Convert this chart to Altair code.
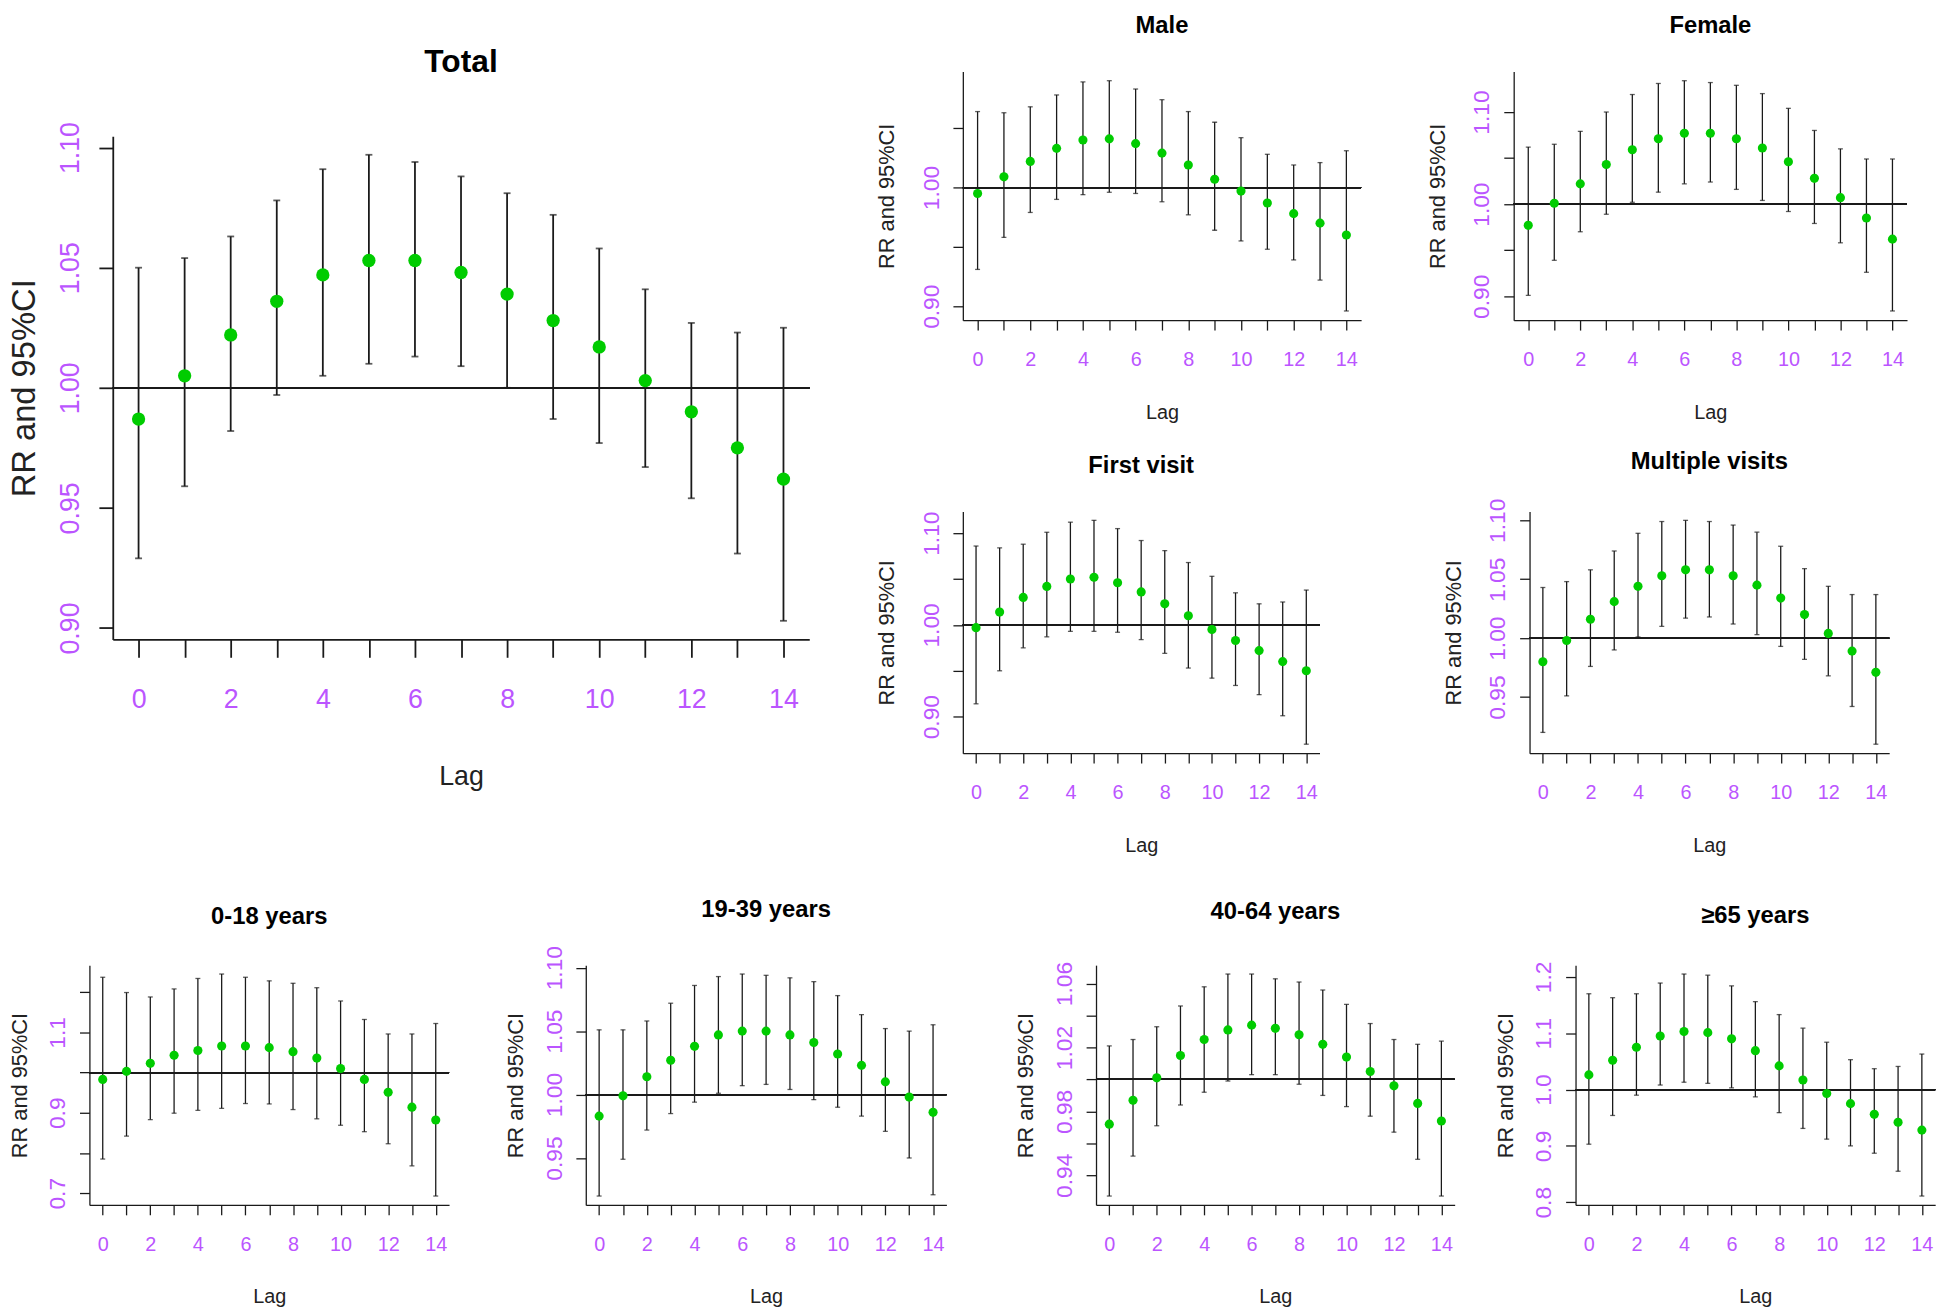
import altair as alt
import pandas as pd

LAGS = list(range(15))

# ---- Total ----
total_rr = [0.987, 1.005, 1.022, 1.036, 1.047, 1.053, 1.053, 1.048, 1.039, 1.028, 1.017, 1.003, 0.990, 0.975, 0.962]
total_lo = [0.929, 0.959, 0.982, 0.997, 1.005, 1.010, 1.013, 1.009, 1.000, 0.987, 0.977, 0.967, 0.954, 0.931, 0.903]
total_hi = [1.050, 1.054, 1.063, 1.078, 1.091, 1.097, 1.094, 1.088, 1.081, 1.072, 1.058, 1.041, 1.027, 1.023, 1.025]

# ---- Male ----
male_rr = [0.995, 1.009, 1.022, 1.033, 1.040, 1.041, 1.037, 1.029, 1.019, 1.007, 0.997, 0.987, 0.978, 0.970, 0.960]
male_lo = [0.931, 0.958, 0.979, 0.990, 0.994, 0.996, 0.995, 0.988, 0.977, 0.964, 0.955, 0.948, 0.939, 0.922, 0.896]
male_hi = [1.064, 1.063, 1.068, 1.078, 1.089, 1.090, 1.083, 1.074, 1.064, 1.055, 1.042, 1.028, 1.019, 1.021, 1.031]

# ---- Female ----
female_rr = [0.977, 1.001, 1.022, 1.043, 1.059, 1.071, 1.077, 1.077, 1.071, 1.061, 1.046, 1.028, 1.007, 0.985, 0.962]
female_lo = [0.901, 0.939, 0.970, 0.989, 1.002, 1.013, 1.022, 1.024, 1.016, 1.004, 0.992, 0.979, 0.958, 0.926, 0.884]
female_hi = [1.062, 1.065, 1.079, 1.100, 1.119, 1.131, 1.134, 1.132, 1.129, 1.120, 1.104, 1.080, 1.060, 1.049, 1.049]

# ---- First visit ----
first_rr = [0.997, 1.014, 1.030, 1.042, 1.050, 1.052, 1.046, 1.036, 1.023, 1.010, 0.995, 0.983, 0.972, 0.960, 0.950]
first_lo = [0.914, 0.950, 0.975, 0.987, 0.993, 0.993, 0.992, 0.984, 0.969, 0.953, 0.942, 0.934, 0.924, 0.901, 0.870]
first_hi = [1.086, 1.084, 1.088, 1.101, 1.112, 1.114, 1.105, 1.092, 1.081, 1.068, 1.053, 1.035, 1.023, 1.025, 1.038]

# ---- Multiple visits ----
multi_rr = [0.980, 0.998, 1.016, 1.031, 1.044, 1.053, 1.058, 1.058, 1.053, 1.045, 1.034, 1.020, 1.004, 0.989, 0.971]
multi_lo = [0.920, 0.951, 0.976, 0.990, 1.001, 1.010, 1.017, 1.018, 1.012, 1.003, 0.993, 0.982, 0.968, 0.942, 0.910]
multi_hi = [1.043, 1.048, 1.058, 1.074, 1.089, 1.099, 1.100, 1.099, 1.096, 1.090, 1.078, 1.059, 1.044, 1.037, 1.037]

# ---- 0-18 years ----
a018_rr = [0.983, 1.003, 1.023, 1.043, 1.055, 1.066, 1.066, 1.062, 1.052, 1.036, 1.010, 0.983, 0.951, 0.914, 0.882]
a018_lo = [0.785, 0.842, 0.883, 0.899, 0.906, 0.911, 0.923, 0.922, 0.908, 0.885, 0.869, 0.853, 0.823, 0.768, 0.693]
a018_hi = [1.237, 1.199, 1.188, 1.208, 1.234, 1.245, 1.237, 1.228, 1.222, 1.211, 1.178, 1.132, 1.096, 1.096, 1.122]

# ---- 19-39 years ----
a1939_rr = [0.983, 0.999, 1.014, 1.027, 1.038, 1.047, 1.050, 1.050, 1.047, 1.041, 1.032, 1.023, 1.010, 0.998, 0.986]
a1939_lo = [0.920, 0.949, 0.972, 0.985, 0.994, 1.001, 1.007, 1.008, 1.004, 0.996, 0.990, 0.983, 0.971, 0.950, 0.921]
a1939_hi = [1.051, 1.051, 1.058, 1.072, 1.086, 1.093, 1.095, 1.094, 1.092, 1.089, 1.078, 1.063, 1.052, 1.050, 1.055]

# ---- 40-64 years ----
a4064_rr = [0.972, 0.987, 1.001, 1.015, 1.025, 1.031, 1.034, 1.032, 1.028, 1.022, 1.014, 1.005, 0.996, 0.985, 0.974]
a4064_lo = [0.927, 0.952, 0.971, 0.984, 0.992, 0.999, 1.003, 1.003, 0.997, 0.990, 0.983, 0.977, 0.967, 0.950, 0.927]
a4064_hi = [1.021, 1.025, 1.033, 1.046, 1.058, 1.066, 1.066, 1.063, 1.061, 1.056, 1.047, 1.035, 1.025, 1.022, 1.024]

# ---- >=65 years ----
a65_rr = [1.026, 1.052, 1.075, 1.095, 1.103, 1.101, 1.090, 1.069, 1.042, 1.017, 0.993, 0.975, 0.956, 0.942, 0.928]
a65_lo = [0.903, 0.954, 0.990, 1.008, 1.013, 1.011, 1.003, 0.987, 0.959, 0.931, 0.912, 0.900, 0.887, 0.855, 0.811]
a65_hi = [1.170, 1.163, 1.170, 1.189, 1.205, 1.203, 1.184, 1.156, 1.133, 1.109, 1.084, 1.053, 1.037, 1.041, 1.063]

PURPLE = "#BB55FF"
GREEN = "#00CC00"
INK = "#1a1a1a"
FONT = "'Liberation Sans', Arial, sans-serif"

BIG = dict(tick_y=14, pad_y=15, ylab=27, ytitle=33, tp_y=15, tick_x=18, pad_x=30, xlab=27,
           xtitle=27, tp_x=51, title=32, pt=180, lw=1.8, cap=7)
SMALL_TOP = dict(tick_y=10, pad_y=10, ylab=23, ytitle=22, tp_y=22, tick_x=10, pad_x=20, xlab=20,
                 xtitle=20, tp_x=33, title=24, pt=85, lw=1.3, cap=5)
SMALL_BOT = dict(SMALL_TOP, tp_y=16)


def panel(title, rr, lo, hi, ticks, labeled, fmt, w, h, st, t_offset, helpers=()):
    df = pd.DataFrame({"lag": LAGS, "rr": rr, "lo": lo, "hi": hi})
    ymin, ymax = min(lo), max(hi)
    ext = 0.04 * (ymax - ymin)
    yscale = alt.Scale(domain=[ymin - ext, ymax + ext], nice=False, zero=False)
    xscale = alt.Scale(domain=[-0.56, 14.56], nice=False, zero=False)
    xaxis = alt.Axis(
        values=LAGS,
        labelExpr="datum.value % 2 === 0 ? format(datum.value, 'd') : ''",
        title="Lag", labelFont=FONT, labelFontSize=st["xlab"], labelColor=PURPLE,
        labelPadding=st["pad_x"], tickSize=st["tick_x"], tickColor=INK, tickWidth=st["lw"],
        domainColor=INK, domainWidth=st["lw"], titleFont=FONT, titleFontSize=st["xtitle"],
        titleFontWeight="normal", titleColor="#222222", titlePadding=st["tp_x"],
        grid=False, labelFlush=False, labelOverlap=False,
    )
    yaxis = alt.Axis(
        values=ticks,
        labelExpr=f"indexof({labeled}, round(datum.value*1000)/1000) >= 0 ? format(datum.value, '{fmt}') : ''",
        title="RR and 95%CI", labelAngle=-90, labelAlign="center", labelBaseline="bottom",
        labelFont=FONT, labelFontSize=st["ylab"], labelColor=PURPLE, labelPadding=st["pad_y"],
        tickSize=st["tick_y"], tickColor=INK, tickWidth=st["lw"], domainColor=INK,
        domainWidth=st["lw"], titleFont=FONT, titleFontSize=st["ytitle"], titleFontWeight="normal",
        titleColor="#222222", titlePadding=st["tp_y"], grid=False, labelFlush=False,
        labelOverlap=False,
    )
    x = alt.X("lag:Q", scale=xscale, axis=xaxis)
    base = alt.Chart(df)
    ref = base.mark_rule(color=INK, strokeWidth=st["lw"]).encode(
        y=alt.YDatum(1.0, type="quantitative", scale=yscale, axis=yaxis))
    bars = base.mark_rule(color=INK, strokeWidth=st["lw"]).encode(
        x=x, y=alt.Y("lo:Q", scale=yscale, axis=yaxis), y2="hi:Q")
    cap_lo = base.mark_tick(orient="horizontal", color=INK, size=st["cap"], thickness=st["lw"]).encode(
        x=x, y=alt.Y("lo:Q", scale=yscale, axis=yaxis))
    cap_hi = base.mark_tick(orient="horizontal", color=INK, size=st["cap"], thickness=st["lw"]).encode(
        x=x, y=alt.Y("hi:Q", scale=yscale, axis=yaxis))
    pts = base.mark_circle(color=GREEN, size=st["pt"], opacity=1).encode(
        x=x, y=alt.Y("rr:Q", scale=yscale, axis=yaxis))
    layers = [ref, bars, cap_lo, cap_hi, pts]
    for hx, hy in helpers:
        # invisible layout spacer used only to size the panel's bounds in the concat layout
        layers.append(base.mark_rule(color="white", strokeWidth=1, opacity=0.01).encode(
            x=alt.value(hx), x2=alt.value(hx + 1), y=alt.value(hy), y2=alt.value(hy + 1)))
    tkw = dict(text=title, font=FONT, fontSize=st["title"], fontWeight="bold", color="black",
               anchor="middle", frame="group", offset=t_offset, baseline="bottom")
    return alt.layer(*layers).properties(width=w, height=h, title=alt.TitleParams(**tkw))


total = panel("Total", total_rr, total_lo, total_hi, [0.90, 0.95, 1.00, 1.05, 1.10],
              [0.9, 0.95, 1.0, 1.05, 1.1], ".2f", 703, 508, BIG, 11,
              helpers=[(0, 659)])
male = panel("Male", male_rr, male_lo, male_hi, [0.90, 0.95, 1.00, 1.05],
             [0.9, 1.0], ".2f", 402, 251, SMALL_TOP, 10)
female = panel("Female", female_rr, female_lo, female_hi, [0.90, 0.95, 1.00, 1.05, 1.10],
               [0.9, 1.0, 1.1], ".2f", 397, 251, SMALL_TOP, 10, helpers=[(401, 10)])
first = panel("First visit", first_rr, first_lo, first_hi, [0.90, 0.95, 1.00, 1.05, 1.10],
              [0.9, 1.0, 1.1], ".2f", 360, 244, SMALL_TOP, 9)
multi = panel("Multiple visits", multi_rr, multi_lo, multi_hi, [0.95, 1.00, 1.05, 1.10],
              [0.95, 1.0, 1.05, 1.1], ".2f", 363, 244, SMALL_TOP, 0)
p018 = panel("0-18 years", a018_rr, a018_lo, a018_hi, [0.7, 0.8, 0.9, 1.0, 1.1, 1.2],
             [0.7, 0.9, 1.1], ".1f", 363, 242, SMALL_BOT, 13)
p1939 = panel("19-39 years", a1939_rr, a1939_lo, a1939_hi, [0.95, 1.00, 1.05, 1.10],
              [0.95, 1.0, 1.05, 1.1], ".2f", 364, 242, SMALL_BOT, 0)
p4064 = panel("40-64 years", a4064_rr, a4064_lo, a4064_hi, [0.94, 0.96, 0.98, 1.00, 1.02, 1.04, 1.06],
              [0.94, 0.98, 1.02, 1.06], ".2f", 362, 242, SMALL_BOT, 14)
p65 = panel("≥65 years", a65_rr, a65_lo, a65_hi, [0.8, 0.9, 1.0, 1.1, 1.2],
            [0.8, 0.9, 1.0, 1.1, 1.2], ".1f", 363, 242, SMALL_BOT, 9)

right_block = alt.vconcat(
    alt.hconcat(male, female, spacing=65),
    alt.hconcat(first, multi, spacing=123),
    spacing=28,
)
top = alt.hconcat(total, right_block, spacing=65, center=True)
bottom = alt.hconcat(
    alt.hconcat(p018, p1939, spacing=55),
    alt.hconcat(p4064, p65, spacing=38),
    spacing=67,
)
chart = alt.vconcat(top, bottom, spacing=43, center=True).properties(
    padding=0, background="white"
).configure_view(stroke=None)

chart.save("out.html", embed_options={"renderer": "svg", "actions": False})
